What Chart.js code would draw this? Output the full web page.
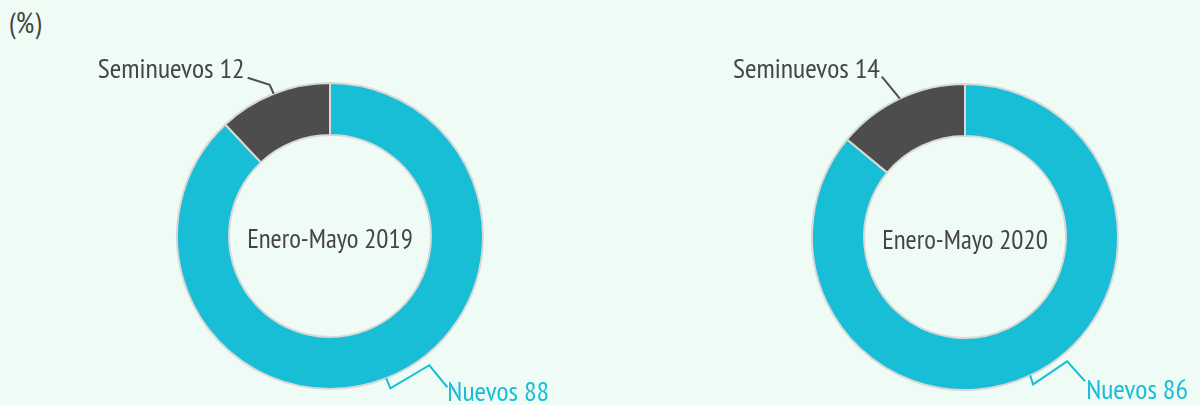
<!DOCTYPE html>
<html>
<head>
<meta charset="utf-8">
<script src="https://cdn.jsdelivr.net/npm/chart.js@4.4.1/dist/chart.umd.min.js"></script>
<style>
  html, body { margin: 0; padding: 0; background: #EEFCF5; width: 1200px; height: 405px; overflow: hidden; }
  .wrap { position: absolute; left: 0; top: 0; width: 1200px; height: 405px; }
  canvas { position: absolute; left: 0; top: 0; }
  #unit { position: absolute; left: 9px; top: 8px; font-family: 'Liberation Sans Narrow', 'PT Sans Narrow', 'Roboto', sans-serif; font-size: 29px; line-height: 1; color: #454545; }
</style>
</head>
<body>
<div id="unit">(%)</div>
<div class="wrap"><canvas id="c1" width="1200" height="405"></canvas></div>
<div class="wrap"><canvas id="c2" width="1200" height="405"></canvas></div>
<script>
const categories = ['Nuevos', 'Seminuevos'];
const periods = ['Enero-Mayo 2019', 'Enero-Mayo 2020'];
const values2019 = [88, 12];
const values2020 = [86, 14];

const CYAN = '#18BDD6';
const DARK = '#4D4D4D';
const TEXT = '#454545';
const FONT = "'Liberation Sans Narrow', 'PT Sans Narrow', 'Roboto', sans-serif";

const labelPlugin = {
  id: 'leaderLabels',
  afterDatasetsDraw(chart, args, opts) {
    const ctx = chart.ctx;
    const meta = chart.getDatasetMeta(0);
    const data = chart.data.datasets[0].data;
    meta.data.forEach((arc, i) => {
      const p = arc.getProps(['x', 'y', 'startAngle', 'endAngle', 'outerRadius'], true);
      const mid = (p.startAngle + p.endAngle) / 2;
      const ax = p.x + Math.cos(mid) * p.outerRadius;
      const ay = p.y + Math.sin(mid) * p.outerRadius;
      const cfg = opts.items[i];
      const color = i === 0 ? CYAN : DARK;
      ctx.save();
      ctx.strokeStyle = color;
      ctx.lineWidth = 2;
      ctx.lineJoin = 'miter';
      ctx.beginPath();
      ctx.moveTo(ax, ay);
      cfg.path.forEach(([dx, dy]) => ctx.lineTo(ax + dx, ay + dy));
      ctx.stroke();
      ctx.fillStyle = i === 0 ? CYAN : TEXT;
      ctx.font = '28px ' + FONT;
      ctx.textAlign = cfg.align;
      ctx.textBaseline = 'alphabetic';
      ctx.fillText(chart.data.labels[i] + ' ' + data[i], ax + cfg.text[0], ay + cfg.text[1]);
      ctx.restore();
    });
    const a0 = meta.data[0];
    ctx.save();
    ctx.fillStyle = TEXT;
    ctx.font = '27px ' + FONT;
    ctx.textAlign = 'center';
    ctx.textBaseline = 'middle';
    ctx.fillText(opts.center, a0.x, a0.y + 4);
    ctx.restore();
  }
};

function makeChart(id, values, period, padding, items) {
  return new Chart(document.getElementById(id), {
    type: 'doughnut',
    data: {
      labels: categories,
      datasets: [{
        data: values,
        backgroundColor: [CYAN, DARK],
        borderColor: '#D8D8D8',
        borderWidth: 2,
        hoverOffset: 0
      }]
    },
    options: {
      responsive: false,
      animation: false,
      cutout: '66%',
      rotation: 0,
      layout: { padding: padding },
      events: [],
      plugins: {
        legend: { display: false },
        tooltip: { enabled: false },
        leaderLabels: { center: period, items: items }
      }
    },
    plugins: [labelPlugin]
  });
}

makeChart('c1', values2019, periods[0],
  { left: 176, right: 716, top: 82, bottom: 15 },
  [
    { path: [[4, 10], [43, -13], [61, 9]], text: [61, 23], align: 'left' },
    { path: [[-4, -9], [-26, -16]], text: [-29, -16], align: 'right' }
  ]);

makeChart('c2', values2020, periods[1],
  { left: 811, right: 81, top: 83, bottom: 14 },
  [
    { path: [[3, 9], [37, -14], [55, 6]], text: [56, 24], align: 'left' },
    { path: [[-18, -22]], text: [-20, -21], align: 'right' }
  ]);
</script>
</body>
</html>
